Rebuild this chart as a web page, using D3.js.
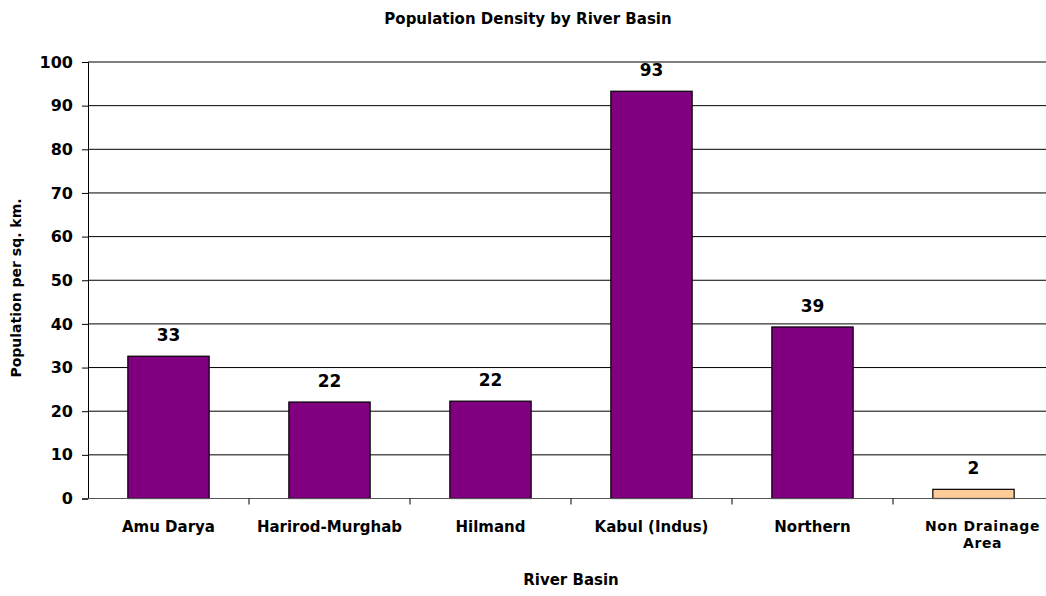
<!DOCTYPE html>
<html>
<head>
<meta charset="utf-8">
<script src="https://cdn.jsdelivr.net/npm/d3@7"></script>
<style>
  html, body { margin: 0; padding: 0; background: #fff; }
  svg { display: block; }
  text { font-family: "DejaVu Sans", sans-serif; font-weight: bold; fill: #000; }
</style>
</head>
<body>
<svg id="chart" width="1046" height="596"></svg>
<script>
// Population density (people per sq. km) for each river basin
const basins = ["Amu Darya", "Harirod-Murghab", "Hilmand", "Kabul (Indus)", "Northern", "Non Drainage Area"];
const density = [32.6, 22.1, 22.3, 93.3, 39.3, 2.1];
const barColors = ["#800080", "#800080", "#800080", "#800080", "#800080", "#FFCC99"];
const yTicks = [0, 10, 20, 30, 40, 50, 60, 70, 80, 90, 100];

const svg = d3.select("#chart");
const plot = { left: 88, right: 1054, top: 62, bottom: 498.5 };

const x = d3.scaleBand().domain(basins).range([plot.left, plot.right]).paddingInner(0).paddingOuter(0);
const y = d3.scaleLinear().domain([0, 100]).range([plot.bottom, plot.top]);
const barW = x.bandwidth() * 0.505;

// Title
svg.append("text").attr("x", 528).attr("y", 24).attr("text-anchor", "middle")
  .style("font-size", "15px").text("Population Density by River Basin");

// Horizontal gridlines
svg.append("g").selectAll("line").data(yTicks.filter(d => d > 0)).join("line")
  .attr("x1", plot.left).attr("x2", plot.right)
  .attr("y1", d => y(d)).attr("y2", d => y(d))
  .attr("stroke", "#000").attr("stroke-width", 1);

// Y axis
const yAxis = d3.axisLeft(y).tickValues(yTicks).tickSize(6).tickPadding(9);
const gy = svg.append("g").attr("transform", `translate(${plot.left},0)`).call(yAxis);
gy.select(".domain").attr("stroke", "#000");
gy.selectAll(".tick line").attr("stroke", "#000");
gy.selectAll(".tick text").style("font-size", "16px").style("font-family", "DejaVu Sans").style("font-weight", "bold");

// Bars
svg.append("g").selectAll("rect").data(basins).join("rect")
  .attr("x", d => x(d) + (x.bandwidth() - barW) / 2)
  .attr("y", (d, i) => y(density[i]))
  .attr("width", barW)
  .attr("height", (d, i) => y(0) - y(density[i]))
  .attr("fill", (d, i) => barColors[i])
  .attr("stroke", "#000").attr("stroke-width", 1.2);

// Value labels
svg.append("g").selectAll("text").data(basins).join("text")
  .attr("x", d => x(d) + x.bandwidth() / 2)
  .attr("y", (d, i) => y(density[i]) - 15)
  .attr("text-anchor", "middle").style("font-size", "17px")
  .text((d, i) => d3.format(".0f")(density[i]));

// X axis baseline and category separators
svg.append("line").attr("x1", plot.left).attr("x2", plot.right)
  .attr("y1", y(0)).attr("y2", y(0)).attr("stroke", "#555").attr("stroke-width", 1);
svg.append("g").selectAll("line").data(basins.slice(1)).join("line")
  .attr("x1", d => x(d)).attr("x2", d => x(d))
  .attr("y1", y(0)).attr("y2", y(0) + 6).attr("stroke", "#000");

// Category labels (long names wrap onto two lines)
const catG = svg.append("g");
basins.forEach((name, i) => {
  const cx = x(name) + x.bandwidth() / 2;
  if (name === "Non Drainage Area") {
    catG.append("text").attr("x", cx + 9).attr("y", 531).attr("text-anchor", "middle")
      .style("font-size", "14px").style("letter-spacing", "0.6px").text("Non Drainage");
    catG.append("text").attr("x", cx + 9).attr("y", 548).attr("text-anchor", "middle")
      .style("font-size", "14px").style("letter-spacing", "0.6px").text("Area");
  } else {
    catG.append("text").attr("x", cx).attr("y", 532).attr("text-anchor", "middle")
      .style("font-size", "15px").text(name);
  }
});

// Axis titles
svg.append("text").attr("x", (plot.left + plot.right) / 2).attr("y", 585)
  .attr("text-anchor", "middle").style("font-size", "15px").text("River Basin");
svg.append("text").attr("transform", "translate(21,288) rotate(-90)")
  .attr("text-anchor", "middle").style("font-size", "14px").text("Population per sq. km.");
</script>
</body>
</html>
